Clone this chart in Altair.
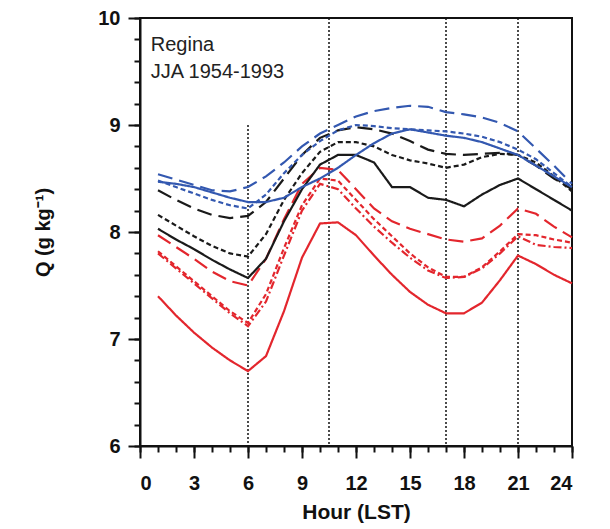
import altair as alt
import pandas as pd

hours = list(range(1, 25))

red_solid = [7.40, 7.22, 7.06, 6.92, 6.80, 6.70, 6.84, 7.26, 7.76, 8.08, 8.09, 7.97,
             7.78, 7.60, 7.44, 7.32, 7.24, 7.24, 7.34, 7.55, 7.78, 7.70, 7.60, 7.52]
red_longdash = [7.97, 7.86, 7.75, 7.63, 7.54, 7.50, 7.75, 8.12, 8.45, 8.60, 8.58, 8.40,
                8.22, 8.10, 8.03, 7.98, 7.93, 7.91, 7.94, 8.06, 8.22, 8.17, 8.05, 7.95]
red_shortdash = [7.82, 7.68, 7.54, 7.40, 7.26, 7.15, 7.42, 7.85, 8.25, 8.50, 8.48, 8.30,
                 8.12, 7.96, 7.80, 7.67, 7.58, 7.58, 7.67, 7.82, 7.98, 7.97, 7.93, 7.90]
red_dashdot = [7.80, 7.66, 7.52, 7.38, 7.24, 7.12, 7.35, 7.78, 8.20, 8.45, 8.40, 8.22,
               8.05, 7.90, 7.76, 7.64, 7.57, 7.58, 7.66, 7.80, 7.96, 7.88, 7.86, 7.85]
black_solid = [8.03, 7.93, 7.84, 7.74, 7.65, 7.57, 7.75, 8.10, 8.40, 8.63, 8.72, 8.72,
               8.65, 8.42, 8.42, 8.32, 8.30, 8.24, 8.35, 8.44, 8.50, 8.40, 8.30, 8.20]
black_shortdash = [8.16, 8.06, 7.96, 7.87, 7.80, 7.77, 7.98, 8.30, 8.55, 8.75, 8.84, 8.84,
                   8.80, 8.72, 8.67, 8.64, 8.60, 8.63, 8.70, 8.73, 8.72, 8.65, 8.52, 8.38]
black_longdash = [8.39, 8.30, 8.22, 8.16, 8.13, 8.15, 8.28, 8.50, 8.72, 8.88, 8.95, 8.98,
                  8.96, 8.92, 8.85, 8.77, 8.73, 8.72, 8.73, 8.74, 8.72, 8.62, 8.50, 8.40]
blue_solid = [8.47, 8.45, 8.42, 8.37, 8.32, 8.28, 8.28, 8.32, 8.42, 8.50, 8.60, 8.72,
              8.83, 8.92, 8.96, 8.93, 8.90, 8.88, 8.84, 8.78, 8.72, 8.62, 8.52, 8.42]
blue_longdash = [8.54, 8.49, 8.44, 8.39, 8.38, 8.42, 8.52, 8.65, 8.80, 8.92, 9.00, 9.08,
                 9.13, 9.16, 9.18, 9.17, 9.12, 9.10, 9.07, 9.02, 8.94, 8.78, 8.62, 8.45]
blue_shortdash = [8.48, 8.42, 8.36, 8.30, 8.25, 8.22, 8.35, 8.55, 8.72, 8.85, 8.95, 9.00,
                  8.99, 8.97, 8.96, 8.95, 8.94, 8.92, 8.89, 8.84, 8.77, 8.68, 8.55, 8.42]

series = {
    "red_solid": red_solid,
    "red_longdash": red_longdash,
    "red_shortdash": red_shortdash,
    "red_dashdot": red_dashdot,
    "black_solid": black_solid,
    "black_shortdash": black_shortdash,
    "black_longdash": black_longdash,
    "blue_solid": blue_solid,
    "blue_longdash": blue_longdash,
    "blue_shortdash": blue_shortdash,
}
names = list(series.keys())
colors = ["#e3262d", "#e3262d", "#e3262d", "#e3262d",
          "#1a1a1a", "#1a1a1a", "#1a1a1a",
          "#3358b0", "#3358b0", "#3358b0"]
dashes = [[1, 0], [15, 7], [5, 3], [8, 3, 2, 3],
          [1, 0], [5, 3], [15, 7],
          [1, 0], [15, 7], [5, 3]]

rows = []
for n, vals in series.items():
    for h, v in zip(hours, vals):
        rows.append({"series": n, "hour": h, "q": v})
df = pd.DataFrame(rows)

vline_x = [6, 10.5, 17, 21]
vline_top = [9, 10, 10, 10]
vline_bottom = [6, 6, 6, 6]
vdf = pd.DataFrame({"x": vline_x, "y": vline_top, "y2": vline_bottom})

label_lines = ["Regina", "JJA 1954-1993"]
label_x = [0.6, 0.6]
label_y = [9.69, 9.44]
tdf = pd.DataFrame({"x": label_x, "y": label_y, "t": label_lines})

x_major = [0, 3, 6, 9, 12, 15, 18, 21, 24]
x_minor = list(range(0, 25))
y_major = [6, 7, 8, 9, 10]
y_minor = [6.0, 6.2, 6.4, 6.6, 6.8, 7.0, 7.2, 7.4, 7.6, 7.8, 8.0, 8.2, 8.4, 8.6, 8.8,
           9.0, 9.2, 9.4, 9.6, 9.8, 10.0]
x_range = [0, 24]
y_range = [6, 10]

FONT = "Liberation Sans"
INK = "#111111"

xscale = alt.Scale(domain=x_range, nice=False, zero=False)
yscale = alt.Scale(domain=y_range, nice=False, zero=False)

x_major_axis = alt.Axis(
    orient="bottom", values=x_major, title="Hour (LST)", format="d",
    tickSize=12, labelPadding=15, titlePadding=8, grid=False, labelOverlap=False,
    labelFont=FONT, labelFontSize=20, labelFontWeight="bold", labelColor=INK,
    titleFont=FONT, titleFontSize=21, titleFontWeight="bold", titleColor=INK,
    domainColor=INK, domainWidth=2, tickColor=INK, tickWidth=2, ticks=True,
)
y_major_axis = alt.Axis(
    orient="left", values=y_major, title="Q (g kg\u207b\u00b9)", format="d",
    tickSize=12, labelPadding=8, titlePadding=44, grid=False, labelOverlap=False,
    labelFont=FONT, labelFontSize=20, labelFontWeight="bold", labelColor=INK,
    titleFont=FONT, titleFontSize=20, titleFontWeight="bold", titleColor=INK,
    domainColor=INK, domainWidth=2, tickColor=INK, tickWidth=2, ticks=True,
)
x_minor_axis = alt.Axis(
    orient="bottom", values=x_minor, title=None, labels=False, domain=False,
    tickSize=6, grid=False, tickColor=INK, tickWidth=2, ticks=True,
)
y_minor_axis = alt.Axis(
    orient="left", values=y_minor, title=None, labels=False, domain=False,
    tickSize=6, grid=False, tickColor=INK, tickWidth=2, ticks=True,
)

vlines = alt.Chart(vdf).mark_rule(color=INK, strokeWidth=1.5, strokeDash=[2, 2]).encode(
    x=alt.X("x:Q", scale=xscale, axis=x_minor_axis),
    y=alt.Y("y:Q", scale=yscale, axis=y_minor_axis),
    y2="y2:Q",
)

lines = alt.Chart(df).mark_line(strokeWidth=2.2).encode(
    x=alt.X("hour:Q", scale=xscale, axis=x_major_axis),
    y=alt.Y("q:Q", scale=yscale, axis=y_major_axis),
    color=alt.Color("series:N", scale=alt.Scale(domain=names, range=colors), legend=None),
    strokeDash=alt.StrokeDash("series:N", scale=alt.Scale(domain=names, range=dashes), legend=None),
    detail="series:N",
    order="hour:Q",
)

text = alt.Chart(tdf).mark_text(align="left", baseline="alphabetic", font=FONT,
                                fontSize=20, color="#222").encode(
    x=alt.X("x:Q", scale=xscale, axis=None),
    y=alt.Y("y:Q", scale=yscale, axis=None),
    text="t:N",
)

# frame box around the plot area
frame_df = pd.DataFrame({"x0": [x_range[0]], "x1": [x_range[1]], "y0": [y_range[0]], "y1": [y_range[1]]})
frame = alt.Chart(frame_df).mark_rect(fill="white", fillOpacity=0, stroke=INK, strokeWidth=2).encode(
    x=alt.X("x0:Q", scale=xscale, axis=None),
    x2="x1:Q",
    y=alt.Y("y0:Q", scale=yscale, axis=None),
    y2="y1:Q",
)

chart = alt.layer(frame, vlines, lines, text).resolve_axis(
    x="independent", y="independent"
).properties(
    width=432, height=428,
    padding={"left": 25, "top": 0, "right": 5, "bottom": 5},
    background="white",
).configure_view(stroke=INK, strokeWidth=2)

chart.save("out.html", embed_options={"renderer": "svg", "actions": False})
